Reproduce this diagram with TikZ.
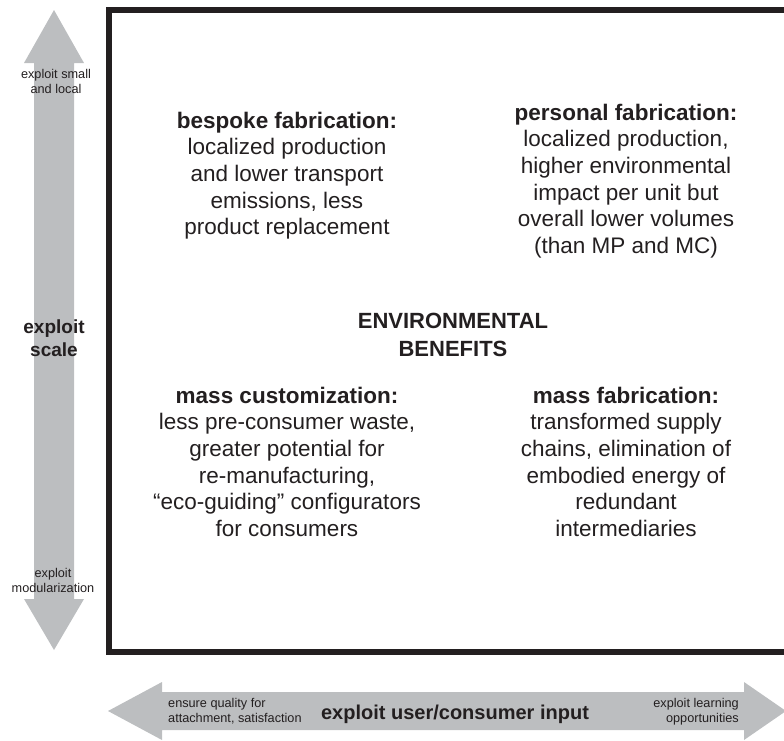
\documentclass[tikz,border=0pt]{standalone}
\usepackage{fontspec}
\setmainfont{Liberation Sans}
\definecolor{arrowgray}{HTML}{BCBEC0}
\definecolor{ink}{HTML}{231F20}
\tikzset{
  maintext/.style={align=center, font=\fontsize{22.5}{26.7}\selectfont, text=ink, inner sep=0pt, anchor=base},
  boldlabel/.style={align=center, font=\fontsize{19}{23}\selectfont\bfseries, text=ink, inner sep=0pt, anchor=base},
  smalllabel/.style={font=\fontsize{12.7}{15.5}\selectfont, text=ink, inner sep=0pt, anchor=base},
  bigarrow/.style={fill=arrowgray},
  frame/.style={draw=ink, line width=5.5pt}
}
\begin{document}
\begin{tikzpicture}[x=1pt,y=-1pt]
\useasboundingbox (0,0) rectangle (784,740);
\clip (0,0) rectangle (784,740);
% vertical double arrow
\fill[bigarrow] (54,10) -- (84,63) -- (74,63) -- (74,599) -- (84,599) -- (54,650)
  -- (24,599) -- (34,599) -- (34,63) -- (24,63) -- cycle;
% horizontal double arrow
\fill[bigarrow] (108,711) -- (162,682) -- (162,692) -- (744,692) -- (744,682) -- (786,711)
  -- (744,740) -- (744,730) -- (162,730) -- (162,740) -- cycle;
% frame
\draw[frame] (109,10) rectangle (800,652);
% quadrant texts (anchor = baseline of last line)
\node[maintext] (bespoke) at (287,234.8) {\textbf{bespoke fabrication:}\\localized production\\and lower transport\\emissions, less\\product replacement};
\node[maintext] (personal) at (626,253.5) {\textbf{personal fabrication:}\\localized production,\\higher environmental\\impact per unit but\\overall lower volumes\\(than MP and MC)};
\node[maintext, font=\fontsize{22}{27.5}\selectfont\bfseries] (env) at (453,356) {ENVIRONMENTAL\\BENEFITS};
\node[maintext] (masscust) at (287,536.5) {\textbf{mass customization:}\\less pre-consumer waste,\\greater potential for\\re-manufacturing,\\“eco-guiding” configurators\\for consumers};
\node[maintext] (massfab) at (626,536.5) {\textbf{mass fabrication:}\\transformed supply\\chains, elimination of\\embodied energy of\\redundant\\intermediaries};
% vertical arrow labels
\node[smalllabel, align=center] (small) at (56,93.5) {exploit small\\and local};
\node[boldlabel] (scale) at (54,356) {exploit\\scale};
\node[smalllabel, align=center] (modul) at (53,592.5) {exploit\\modularization};
% horizontal arrow labels
\node[smalllabel, align=left, anchor=base west] (quality) at (168,722.5) {ensure quality for\\attachment, satisfaction};
\node[boldlabel, font=\fontsize{20}{24}\selectfont\bfseries] (userinput) at (455,719) {exploit user/consumer input};
\node[smalllabel, align=right, anchor=base east] (learning) at (739,722.5) {exploit learning\\opportunities};
\end{tikzpicture}
\end{document}
